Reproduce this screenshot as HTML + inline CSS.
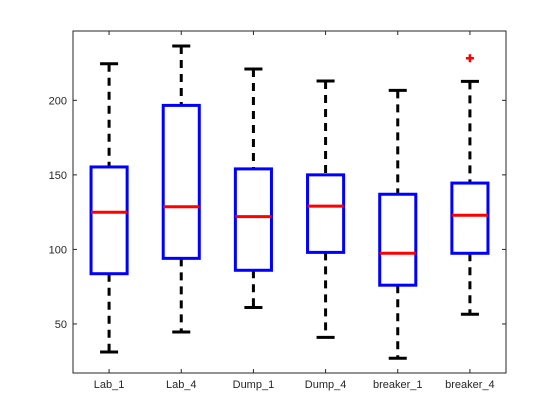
<!DOCTYPE html>
<html><head><meta charset="utf-8"><style>body{margin:0;background:#fff}svg{display:block}text{font-family:"Liberation Sans",sans-serif;font-size:11px;fill:#262626}</style></head>
<body>
<svg id="chart" width="560" height="420">
<rect x="0" y="0" width="560" height="420" fill="#fff"/>
<g id="plot"></g>
</svg>
<script>
const categories = ["Lab_1","Lab_4","Dump_1","Dump_4","breaker_1","breaker_4"];
const upperWhisker = [224.5,236.4,221,213,206.7,212.7];
const q3 = [155.3,196.6,154,150,137,144.5];
const median = [124.9,128.6,122,129,97.4,122.9];
const q1 = [83.7,94,86,98,76,97.4];
const lowerWhisker = [31.2,44.6,61,41,27,56.5];
const outliers = [[],[],[],[],[],[228.2]];
const yTicks = [50,100,150,200];

const L=73,R=506,T=31,B=373,yMin=17.1,yMax=246.5;
const xs=i=>L+(i+0.5)*(R-L)/categories.length;
const ys=v=>B-(v-yMin)/(yMax-yMin)*(B-T);
const unit=(R-L)/categories.length;
const g=document.getElementById('plot');
const NS='http://www.w3.org/2000/svg';
function mk(tag,attrs){const e=document.createElementNS(NS,tag);for(const k in attrs)e.setAttribute(k,attrs[k]);g.appendChild(e);return e;}

const frame=mk('rect',{x:L,y:T,width:R-L,height:B-T,fill:'none',stroke:'#262626','stroke-width':1});



yTicks.forEach(v=>{
  const y=ys(v);
  const t1=mk('line',{x1:L,x2:L+4,y1:y,y2:y,stroke:'#262626'});
  
  
  const t2=mk('line',{x1:R-4,x2:R,y1:y,y2:y,stroke:'#262626'});
  
  
  const tx=mk('text',{x:L-6,y:y+4,'text-anchor':'end'});
  tx.textContent=v;
  
  
});

categories.forEach((c,i)=>{
  const x=xs(i);
  const tb=mk('line',{x1:x,x2:x,y1:B,y2:B-4,stroke:'#262626'});
  
  
  const tt=mk('line',{x1:x,x2:x,y1:T,y2:T+4,stroke:'#262626'});
  
  
  const lb=mk('text',{x:x,y:B+15,'text-anchor':'middle'});
  lb.textContent=c;
  
  

  const hw=unit*0.25, cw=unit*0.125;
  const w1=mk('line',{x1:x,x2:x,y1:ys(upperWhisker[i]),y2:ys(q3[i]),stroke:'#000','stroke-width':3,'stroke-dasharray':'8 6'});
  
  
  const w2=mk('line',{x1:x,x2:x,y1:ys(q1[i]),y2:ys(lowerWhisker[i]),stroke:'#000','stroke-width':3,'stroke-dasharray':'8 6'});
  
  
  const c1=mk('line',{x1:x-cw,x2:x+cw,y1:ys(upperWhisker[i]),y2:ys(upperWhisker[i]),stroke:'#000','stroke-width':3});
  
  
  const c2=mk('line',{x1:x-cw,x2:x+cw,y1:ys(lowerWhisker[i]),y2:ys(lowerWhisker[i]),stroke:'#000','stroke-width':3});
  
  
  const bx=mk('rect',{x:x-hw,y:ys(q3[i]),width:2*hw,height:ys(q1[i])-ys(q3[i]),fill:'none',stroke:'#0000ff','stroke-width':3});
  
  
  const md=mk('line',{x1:x-hw,x2:x+hw,y1:ys(median[i]),y2:ys(median[i]),stroke:'#ff0000','stroke-width':3});
  
  
  outliers[i].forEach(v=>{
    const y=ys(v);
    const o=mk('path',{d:`M${x-4},${y}H${x+4}M${x},${y-4}V${y+4}`,stroke:'#ff0000','stroke-width':2.5});
    
    
  });
});
</script>
</body></html>
